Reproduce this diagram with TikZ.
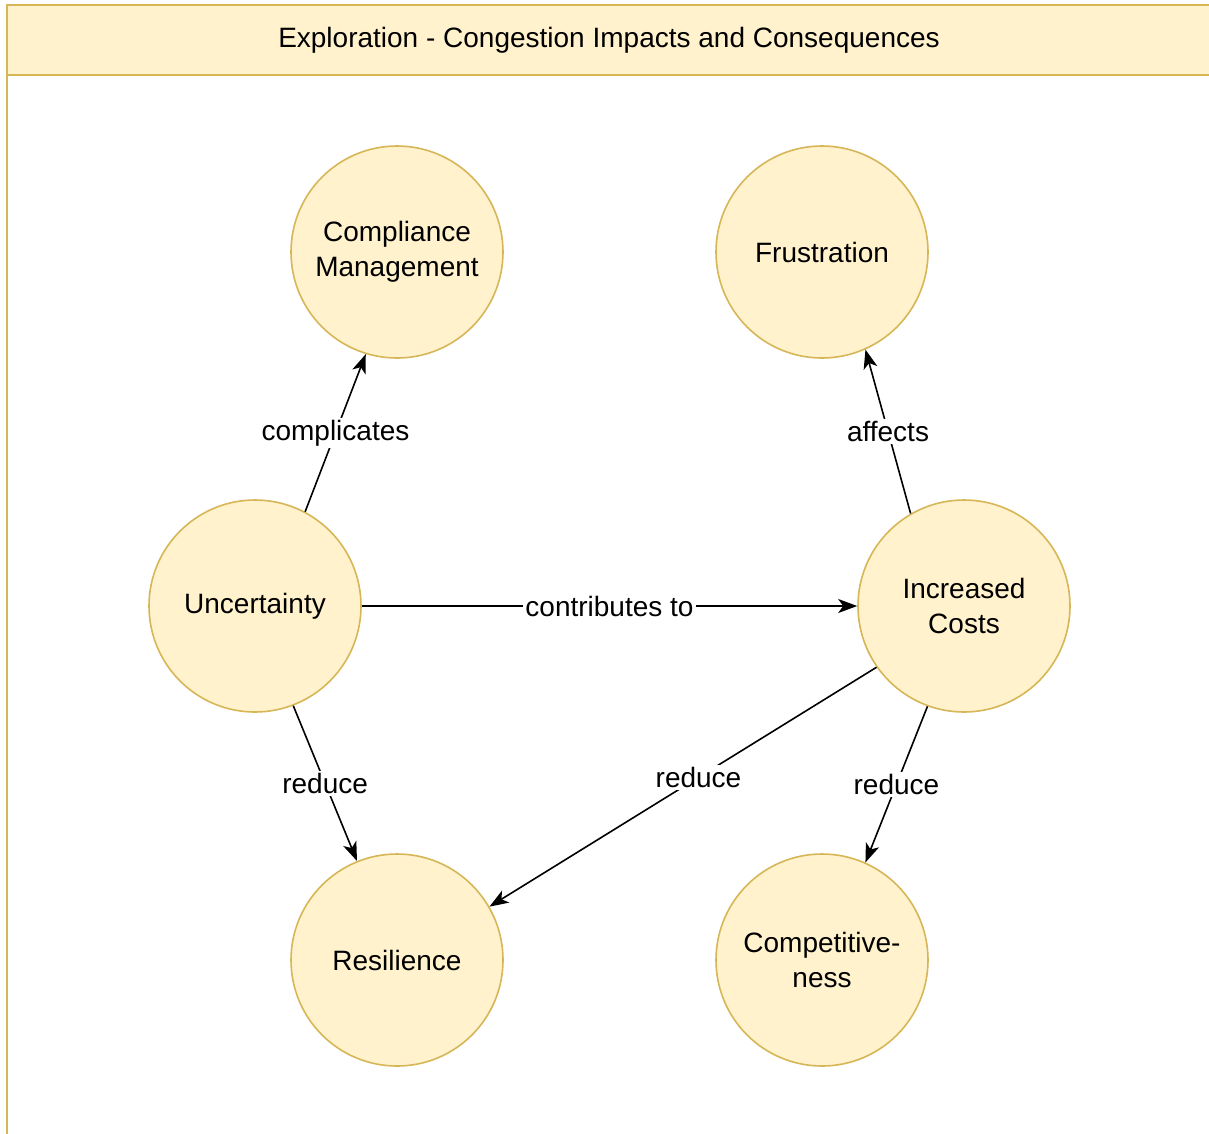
\documentclass[tikz,border=0pt]{standalone}
\usepackage{fontspec}
\setmainfont{Liberation Sans}
\usetikzlibrary{arrows.meta}
\definecolor{noteFill}{HTML}{FFF2CC}
\definecolor{noteLine}{HTML}{D6B656}
\tikzset{
  concept/.style={circle, draw=noteLine, fill=noteFill, line width=1.6pt,
    minimum size=212pt, inner sep=0pt, align=center,
    font=\fontsize{28}{35}\selectfont},
  link/.style={draw=black, line width=1.6pt,
    -{Stealth[length=19pt, width=14pt, inset=5pt]}},
  linklabel/.style={fill=white, inner sep=2pt, font=\fontsize{28}{34}\selectfont}
}
\begin{document}
\begin{tikzpicture}[x=1pt, y=-1pt]
  \useasboundingbox (0,0) rectangle (1209,1133);
  \clip (0,0) rectangle (1209,1133);
  % container: title band and left rule
  \fill[noteFill] (7,5) rectangle (1220,75);
  \draw[noteLine, line width=2pt] (1220,5) -- (7,5) -- (7,1140);
  \draw[noteLine, line width=2pt] (7,75) -- (1220,75);
  \node[font=\fontsize{28}{34}\selectfont] (title) at (609,40)
    {Exploration - Congestion Impacts and Consequences};

  % concepts
  \node[concept] (comp) at (397,252) {Compliance\\Management};
  \node[concept] (frus) at (822,252) {Frustration};
  \node[concept] (unc)  at (255,606) {Uncertainty};
  \node[concept] (cost) at (964,606) {Increased\\Costs};
  \node[concept] (res)  at (397,960) {Resilience};
  \node[concept] (cmp)  at (822,960) {Competitive-\\ness};

  % relations
  \draw[link] (unc.62) -- node[linklabel] {complicates} (comp.-107);
  \draw[link] (cost.120) -- node[linklabel] {affects} (frus.-66);
  \draw[link] (unc.east) -- node[linklabel] {contributes to} (cost.west);
  \draw[link] (unc.-69) -- node[linklabel] {reduce} (res.112);
  \draw[link] (cost.215) -- node[linklabel, pos=0.46] {reduce} (res.30);
  \draw[link] (cost.-110) -- node[linklabel] {reduce} (cmp.66);
\end{tikzpicture}
\end{document}
